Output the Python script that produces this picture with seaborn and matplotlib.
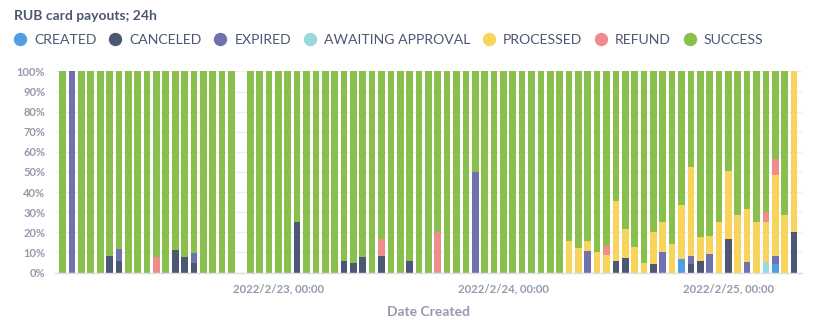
import matplotlib
matplotlib.use("Agg")
import matplotlib.pyplot as plt
from matplotlib.lines import Line2D
import pandas as pd
import seaborn as sns

# Hourly buckets (no payouts were created at 2022-02-22 20:00)
hours = pd.date_range("2022-02-22 01:00", "2022-02-25 07:00", freq="h").drop(
    pd.Timestamp("2022-02-22 20:00")
)

statuses = ["CREATED", "CANCELED", "EXPIRED", "AWAITING APPROVAL",
            "PROCESSED", "REFUND", "SUCCESS"]
colors = ["#509EE3", "#4C5773", "#7172AD", "#98D9D9",
          "#F9D45C", "#EF8C8C", "#88BF4D"]

# Share of payouts per hour, %  (rows: 22 Feb, 23 Feb, 24 Feb, 25 Feb)
created = (
    [0] * 22
    + [0] * 24
    + [0, 0, 0, 0, 0, 0, 0, 0, 0, 0, 0, 0, 0, 0, 0, 0, 0, 0, 0, 6.5, 0, 0, 0, 0]
    + [0, 0, 0, 0, 0, 4, 0, 0]
)
canceled = (
    [0, 0, 0, 0, 0, 8, 5.5, 0, 0, 0, 0, 0, 11, 7.5, 4.5, 0, 0, 0, 0, 0, 0, 0]
    + [0, 0, 25, 0, 0, 0, 0, 5.5, 4.5, 7.5, 0, 8, 0, 0, 5.5, 0, 0, 0, 0, 0, 0, 0, 0, 0]
    + [0, 0, 0, 0, 0, 0, 0, 0, 0, 0, 0, 0, 5.5, 7, 0, 0, 4, 0, 0, 0, 4, 5.5, 0, 0]
    + [16.5, 0, 0, 0, 0, 0, 0, 20]
)
expired = (
    [0, 100, 0, 0, 0, 0, 6, 0, 0, 0, 0, 0, 0, 0, 5, 0, 0, 0, 0, 0, 0, 0]
    + [0, 0, 0, 0, 0, 0, 0, 0, 0, 0, 0, 0, 0, 0, 0, 0, 0, 0, 0, 0, 0, 50, 0, 0]
    + [0, 0, 0, 0, 0, 0, 0, 0, 0, 10.5, 0, 0, 0, 0, 0, 0, 0, 10, 0, 0, 4, 0, 9, 0]
    + [0, 0, 5, 0, 0, 4, 0, 0]
)
awaiting = (
    [0] * 22
    + [0] * 24
    + [0] * 24
    + [0, 0, 0, 0, 5, 0, 0, 0]
)
processed = (
    [0] * 22
    + [0] * 24
    + [0, 0, 0, 0, 0, 0, 0, 15.5, 12, 5, 10, 8.5, 30, 14.5, 12.5, 4.5, 16, 15, 14, 27, 44.5, 12, 9, 25]
    + [34, 28.5, 26.5, 25, 20, 40.5, 28.5, 80]
)
refund = (
    [0, 0, 0, 0, 0, 0, 0, 0, 0, 0, 7.5, 0, 0, 0, 0, 0, 0, 0, 0, 0, 0, 0]
    + [0, 0, 0, 0, 0, 0, 0, 0, 0, 0, 0, 8.5, 0, 0, 0, 0, 0, 20, 0, 0, 0, 0, 0, 0]
    + [0, 0, 0, 0, 0, 0, 0, 0, 0, 0, 0, 4.5, 0, 0, 0, 0, 0, 0, 0, 0, 0, 0, 0, 0]
    + [0, 0, 0, 0, 5, 8, 0, 0]
)
success = (
    [100, 0, 100, 100, 100, 92, 88.5, 100, 100, 100, 92.5, 100, 89, 92.5, 90.5, 100, 100, 100, 100, 100, 100, 100]
    + [100, 100, 75, 100, 100, 100, 100, 94.5, 95.5, 92.5, 100, 83.5, 100, 100, 94.5, 100, 100, 80, 100, 100, 100, 50, 100, 100]
    + [100, 100, 100, 100, 100, 100, 100, 84.5, 88, 84.5, 90, 87, 64.5, 78.5, 87.5, 95.5, 80, 75, 86, 66.5, 47.5, 82.5, 82, 75]
    + [49.5, 71.5, 68.5, 75, 70, 43.5, 71.5, 0]
)

series = [created, canceled, expired, awaiting, processed, refund, success]

# Position of each bucket on the hourly axis
slot = ((hours - hours[0]) / pd.Timedelta("1h")).astype(int)

df = pd.concat(
    [pd.DataFrame({"slot": slot, "status": name, "share": vals})
     for name, vals in zip(statuses, series)],
    ignore_index=True,
)

sns.set_theme(style="white")
plt.rcParams["font.family"] = ["Lato", "DejaVu Sans"]

TEXT_DARK = "#4C5773"
TEXT_LIGHT = "#949AAB"
GRID = "#EDEEF0"

fig = plt.figure(figsize=(8.29, 3.30), dpi=100)
ax = fig.add_axes([55 / 829, 57.5 / 330, 747 / 829, 201 / 330])

sns.histplot(
    data=df, x="slot", weights="share", hue="status",
    hue_order=statuses[::-1], palette=dict(zip(statuses, colors)),
    multiple="stack", discrete=True, shrink=0.71,
    alpha=1, linewidth=0, edgecolor="none", legend=False, ax=ax, zorder=2,
)

ax.set_xlim(-0.82, 78.85)
ax.set_ylim(0, 100)

# y axis: percentage scale with light horizontal grid
ax.set_yticks(range(0, 101, 10))
ax.set_yticklabels([f"{v}%" for v in range(0, 101, 10)])
ax.yaxis.grid(True, color=GRID, linewidth=1)
ax.xaxis.grid(False)
ax.set_axisbelow(True)
ax.tick_params(axis="y", length=0, pad=7, labelsize=8, labelcolor=TEXT_LIGHT)
for lab in ax.get_yticklabels():
    lab.set_fontweight("bold")

# x axis: label each midnight
midnights = [h for h in hours if h.hour == 0]
ax.set_xticks([(h - hours[0]) / pd.Timedelta("1h") for h in midnights])
ax.set_xticklabels([f"{h.year}/{h.month}/{h.day}, 00:00" for h in midnights])
ax.tick_params(axis="x", length=0, pad=8, labelsize=8.2, labelcolor=TEXT_LIGHT)
for lab in ax.get_xticklabels():
    lab.set_fontweight("bold")
ax.set_xticks(list(ax.get_xlim()), minor=True)
ax.tick_params(axis="x", which="minor", length=4, width=1, color="#DCDFE3")

ax.set_xlabel("Date Created", fontsize=10, fontweight="bold",
              color=TEXT_LIGHT, labelpad=8)
ax.set_ylabel("")

for side in ("left", "top", "right"):
    ax.spines[side].set_visible(False)
ax.spines["bottom"].set_color("#DCDFE3")
ax.spines["bottom"].set_linewidth(1)

# Title and legend
fig.text(14 / 829, 1 - 15.5 / 330, "RUB card payouts; 24h", fontsize=10,
         fontweight="bold", color=TEXT_DARK, va="center", ha="left")

handles = [Line2D([], [], linestyle="none", marker="o", markersize=8.6,
                  markerfacecolor=c, markeredgecolor=c) for c in colors]
leg = fig.legend(
    handles, statuses, loc="center left", bbox_to_anchor=(13 / 829, 1 - 40 / 330),
    ncol=7, frameon=False, borderpad=0, borderaxespad=0,
    handlelength=1.0, handletextpad=0.5, columnspacing=0.84,
    prop={"family": "Lato", "size": 10.1},
)
for t in leg.get_texts():
    t.set_color(TEXT_DARK)

fig.savefig("out.png", dpi=100)
